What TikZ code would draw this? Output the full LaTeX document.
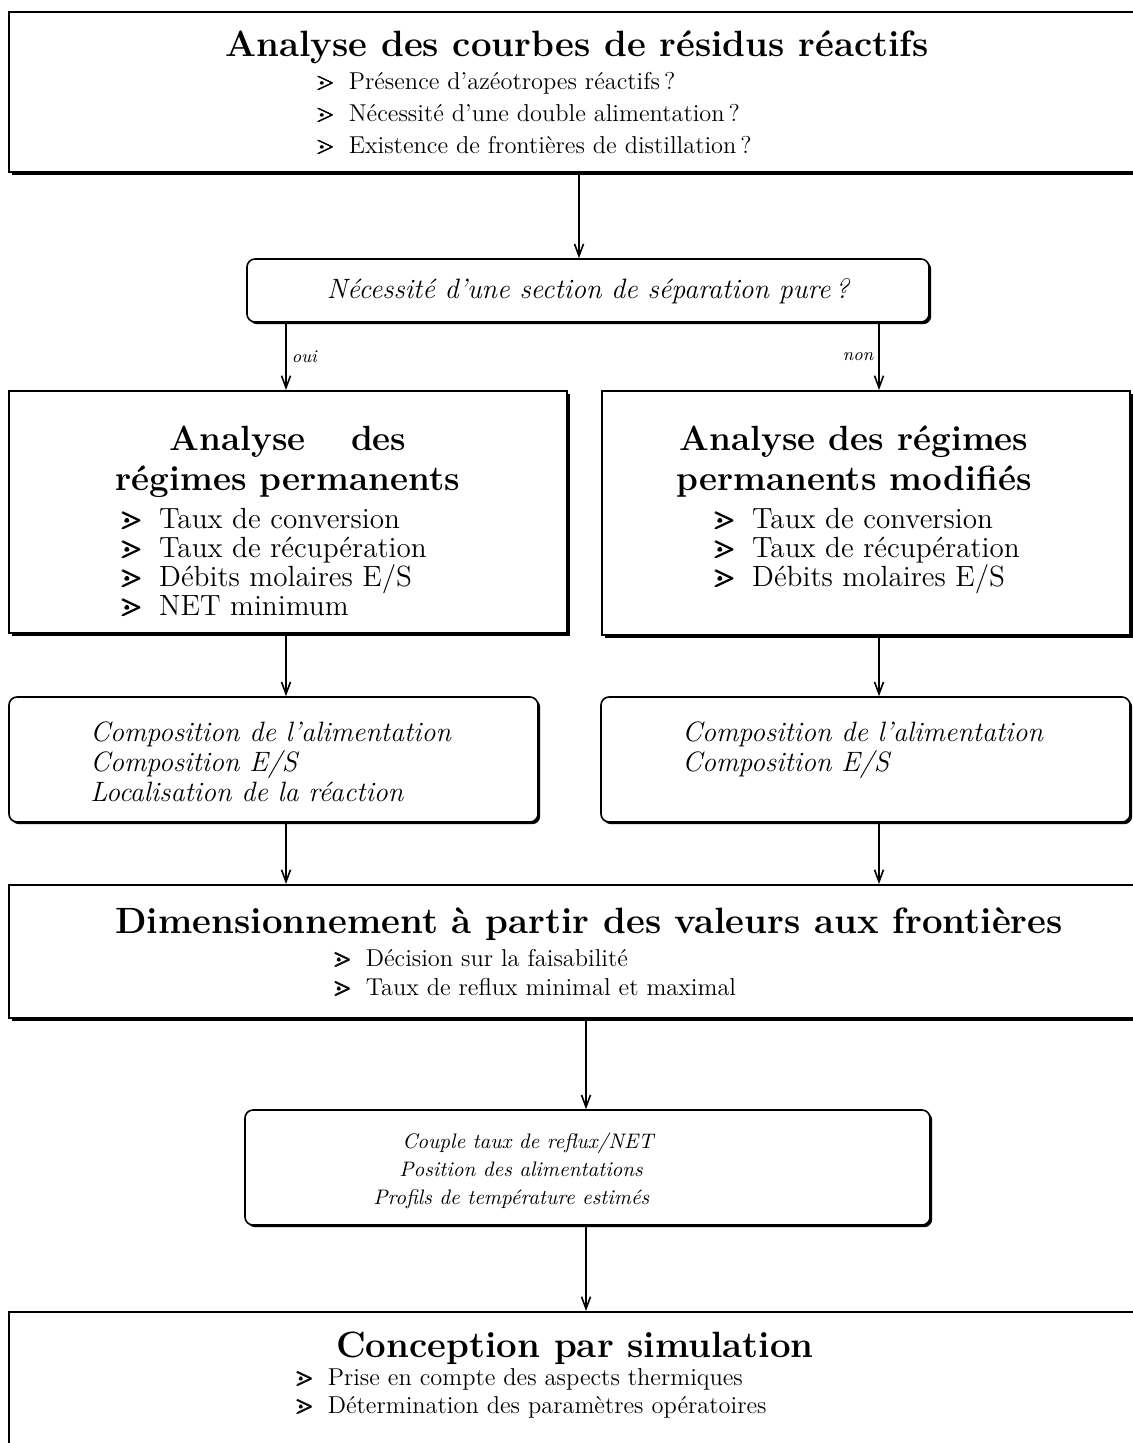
\documentclass[tikz,border=0pt]{standalone}
\usepackage{amssymb}
\usepackage{amsmath}
\usetikzlibrary{arrows.meta,fit,shadows}
\newcommand\bul{$\pmb{\gtrdot}$\hspace{0.55em}}
\begin{document}
\begin{tikzpicture}[x=0.5pt,y=-0.5pt,
  sbox/.style={draw, line width=1pt, fill=white, inner sep=0pt,
     general shadow={fill=black, shadow xshift=1.7pt, shadow yshift=-1.7pt}},
  rbox/.style={draw, line width=0.8pt, fill=white, inner sep=0pt, rounded corners=4pt,
     general shadow={fill=black, shadow xshift=1.1pt, shadow yshift=-1.1pt}},
  arr/.style={line width=0.8pt, -{Straight Barb[length=6pt,width=4.5pt]}},
  ttl/.style={anchor=base, inner sep=0pt, font=\fontsize{18.3}{22}\selectfont\bfseries},
  ttlB/.style={anchor=base, inner sep=0pt, font=\fontsize{17.5}{21}\selectfont\bfseries},
  itA/.style={anchor=base west, inner sep=0pt, font=\fontsize{12.2}{14}\selectfont},
  itB/.style={anchor=base west, inner sep=0pt, font=\fontsize{14.6}{17}\selectfont},
  emA/.style={anchor=base west, inner sep=0pt, font=\fontsize{10.5}{13}\selectfont\itshape},
  emB/.style={anchor=base west, inner sep=0pt, font=\fontsize{14}{16}\selectfont\itshape},
  lab/.style={inner sep=2.5pt, font=\fontsize{9}{11}\selectfont\itshape}
]
\useasboundingbox (0,0) rectangle (1133,1443);

% top box
\node[sbox, fit={(9,12) (1145,172)}] (b1) {};
\node[ttl] (b1t) at (577,57) {Analyse des courbes de résidus réactifs};
\node[itA] (b1a) at (316,90) {\bul Présence d'azéotropes réactifs\,?};
\node[itA] (b1b) at (316,122) {\bul Nécessité d'une double alimentation\,?};
\node[itA] (b1c) at (316,154) {\bul Existence de frontières de distillation\,?};

% decision
\node[rbox, fit={(247,259) (929,322)}] (dec) {};
\node[emB, anchor=base] (dect) at (588,299) {Nécessité d'une section de séparation pure\,?};

% left big box
\node[sbox, fit={(9,391) (567,633)}] (bl) {};
\node[ttlB] (blt1) at (288,451) {Analyse\hspace{1.3em}des};
\node[ttlB] (blt2) at (288,490) {régimes permanents};
\node[itB] (bla) at (120,528) {\bul Taux de conversion};
\node[itB] (blb) at (120,557) {\bul Taux de récupération};
\node[itB] (blc) at (120,586) {\bul Débits molaires E/S};
\node[itB] (bld) at (120,615) {\bul NET minimum};

% right big box
\node[sbox, fit={(602,391) (1130,635)}] (br) {};
\node[ttlB] (brt1) at (854,451) {Analyse des régimes};
\node[ttlB] (brt2) at (854,490) {permanents modifiés};
\node[itB] (bra) at (713,528) {\bul Taux de conversion};
\node[itB] (brb) at (713,557) {\bul Taux de récupération};
\node[itB] (brc) at (713,586) {\bul Débits molaires E/S};

% composition boxes
\node[rbox, fit={(9,697) (538,822)}] (cl) {};
\node[emB] (cla) at (90,741) {Composition de l'alimentation};
\node[emB] (clb) at (90,771) {Composition E/S};
\node[emB] (clc) at (90,801) {Localisation de la réaction};
\node[rbox, fit={(601,697) (1130,822)}] (cr) {};
\node[emB] (cra) at (682,741) {Composition de l'alimentation};
\node[emB] (crb) at (682,771) {Composition E/S};

% dimensionnement
\node[sbox, fit={(9,885) (1145,1018)}] (bd) {};
\node[ttl] (bdt) at (589,933) {Dimensionnement à partir des valeurs aux frontières};
\node[itA] (bda) at (333,966) {\bul Décision sur la faisabilité};
\node[itA] (bdb) at (333,995) {\bul Taux de reflux minimal et maximal};

% couple
\node[rbox, fit={(245,1110) (930,1225)}] (cp) {};
\node[emA] (cpa) at (402,1148) {Couple taux de reflux/NET};
\node[emA] (cpb) at (399,1176) {Position des alimentations};
\node[emA] (cpc) at (373,1204) {Profils de température estimés};

% conception
\node[sbox, fit={(9,1312) (1145,1470)}] (bc) {};
\node[ttl] (bct) at (575,1357) {Conception par simulation};
\node[itA] (bca) at (295,1385) {\bul Prise en compte des aspects thermiques};
\node[itA] (bcb) at (295,1413) {\bul Détermination des paramètres opératoires};

% connectors
\coordinate (xa) at (579,0);
\coordinate (xl) at (286,0);
\coordinate (xr) at (879,0);
\coordinate (xm) at (586,0);
\draw[arr] (b1.south -| xa) -- (dec.north -| xa);
\draw[arr] (dec.south -| xl) -- node[lab, right] (oui) {oui} (bl.north -| xl);
\draw[arr] (dec.south -| xr) -- node[lab, left] (non) {non} (br.north -| xr);
\draw[arr] (bl.south -| xl) -- (cl.north -| xl);
\draw[arr] (br.south -| xr) -- (cr.north -| xr);
\draw[arr] (cl.south -| xl) -- (bd.north -| xl);
\draw[arr] (cr.south -| xr) -- (bd.north -| xr);
\draw[arr] (bd.south -| xm) -- (cp.north -| xm);
\draw[arr] (cp.south -| xm) -- (bc.north -| xm);
\end{tikzpicture}
\end{document}
